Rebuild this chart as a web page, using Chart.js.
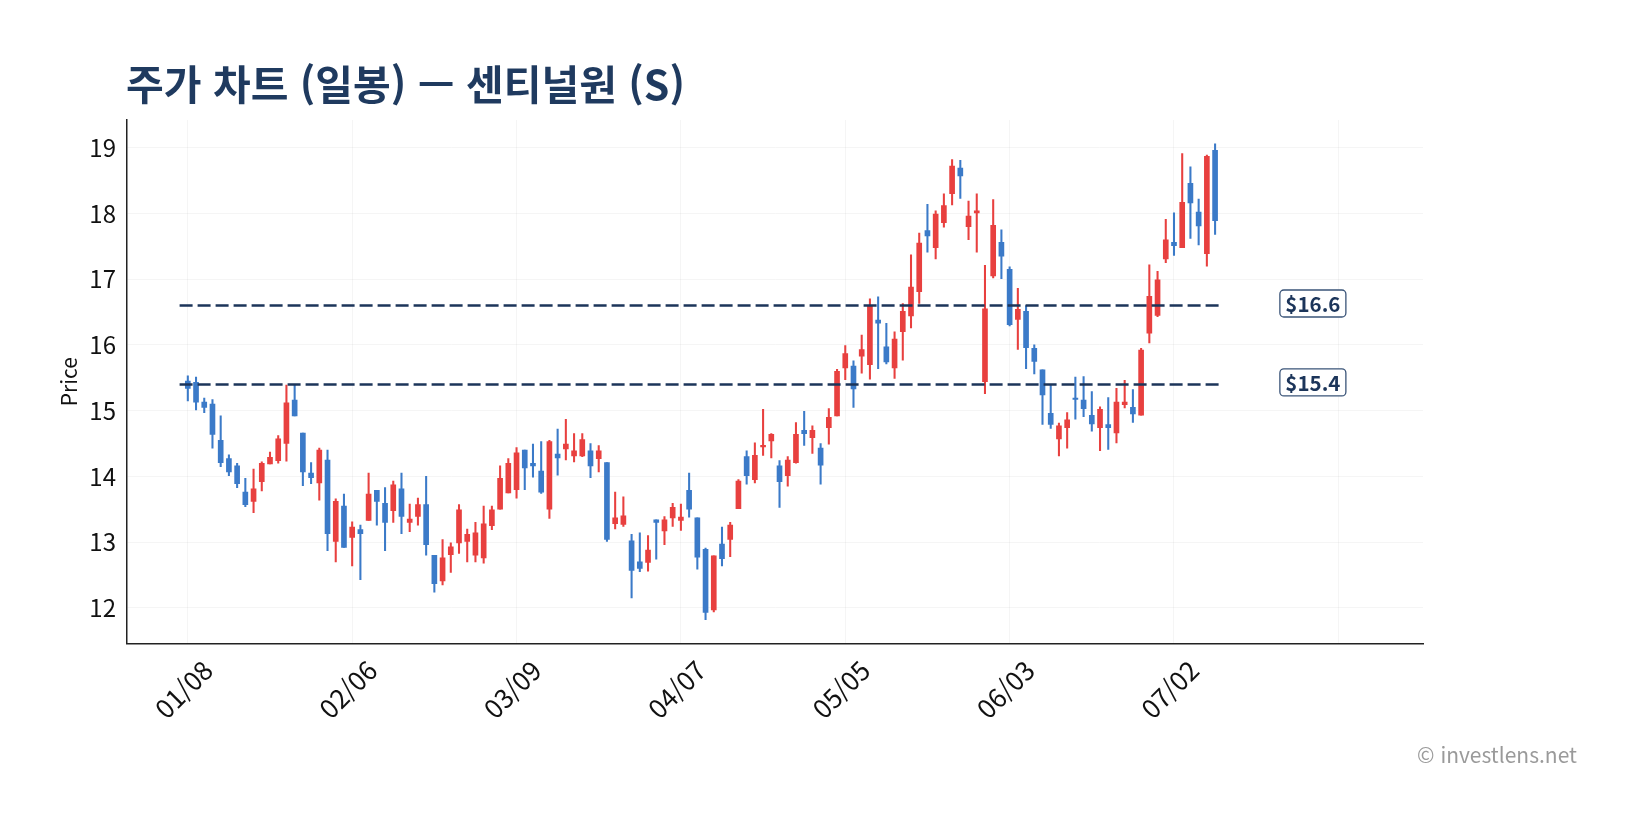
<!DOCTYPE html>
<html lang="ko">
<head>
<meta charset="utf-8">
<title>주가 차트 (일봉) — 센티널원 (S)</title>
<script src="https://cdn.jsdelivr.net/npm/chart.js@4.4.1/dist/chart.umd.min.js"></script>
<style>
  html, body { margin: 0; padding: 0; background: #fff; }
  #wrap { position: relative; width: 1635px; height: 828px; }
  #title { position: absolute; left: 126px; top: 57px; font: 700 41px/50px 'Noto Sans CJK KR', 'Noto Sans', sans-serif; color: #1f3a5f; white-space: nowrap; }
  #credit { position: absolute; right: 58px; top: 741px; font: 400 21px/26px 'Noto Sans CJK KR', 'Noto Sans', sans-serif; color: #9a9a9a; white-space: nowrap; }
</style>
</head>
<body>
<div id="wrap">
  <canvas id="chart" width="1635" height="828"></canvas>
  <div id="title">주가 차트 (일봉) — 센티널원 (S)</div>
  <div id="credit">© investlens.net</div>
</div>
<script>
/* daily OHLC, 2026-01-08 .. 2026-07-10 (126 sessions) */
const openP = [15.45,15.43,15.13,15.10,14.55,14.27,14.16,13.76,13.62,13.92,14.19,14.24,14.50,15.16,14.66,14.05,13.90,14.25,13.01,13.55,
  13.07,13.19,13.33,13.79,13.59,13.48,13.81,13.30,13.39,13.57,12.80,12.41,12.81,12.99,13.01,12.80,12.76,13.25,13.50,13.75,
  13.80,14.40,14.20,14.08,13.50,14.34,14.42,14.31,14.31,14.39,14.27,14.21,13.28,13.27,13.02,12.70,12.69,13.34,13.17,13.37,
  13.33,13.79,13.37,12.89,11.97,12.97,13.04,13.51,14.30,13.95,14.45,14.54,14.16,14.01,14.21,14.70,14.59,14.43,14.74,14.92,
  15.65,15.68,15.83,15.70,16.38,15.97,15.65,16.20,16.44,16.81,17.74,17.48,17.86,18.30,18.69,17.80,18.01,15.44,17.05,17.56,
  17.15,16.39,16.51,15.95,15.62,14.96,14.57,14.74,15.19,15.16,14.93,14.74,14.79,14.66,15.09,15.05,14.93,16.18,16.45,17.31,
  17.56,17.48,18.46,18.02,17.39,18.96];
const highP = [15.53,15.51,15.19,15.17,14.92,14.33,14.20,13.97,14.11,14.22,14.37,14.62,15.39,15.39,14.66,14.21,14.43,14.40,13.66,13.73,
  13.31,13.26,14.05,13.79,13.83,13.93,14.05,13.58,13.67,14.00,12.80,13.04,12.99,13.57,13.20,13.30,13.55,13.55,14.16,14.27,
  14.44,14.40,14.49,14.53,14.55,14.72,14.87,14.65,14.65,14.50,14.47,14.21,13.76,13.69,13.12,13.14,13.10,13.34,13.39,13.59,
  13.58,14.05,13.37,12.91,12.79,13.23,13.30,13.95,14.39,14.51,15.02,14.65,14.24,14.30,14.82,14.99,14.77,14.50,15.03,15.63,
  15.99,15.76,16.15,16.70,16.73,16.33,16.20,16.63,17.37,17.70,18.14,18.04,18.30,18.82,18.81,18.19,18.30,17.21,18.21,17.75,
  17.19,16.86,16.60,16.00,15.62,15.40,14.81,14.97,15.51,15.52,15.29,15.06,15.20,15.34,15.46,15.32,15.95,17.22,17.12,17.91,
  18.01,18.91,18.71,18.22,18.89,19.06];
const lowP = [15.15,15.01,14.97,14.43,14.15,14.01,13.83,13.54,13.45,13.78,14.19,14.20,14.23,14.92,13.86,13.89,13.64,12.87,12.70,12.92,
  12.64,12.43,13.33,13.26,12.87,13.30,13.13,13.16,13.26,12.80,12.24,12.35,12.54,12.83,12.70,12.70,12.68,13.19,13.50,13.75,
  13.67,13.80,13.99,13.74,13.36,14.02,14.25,14.22,14.30,13.98,14.07,13.01,13.20,13.24,12.15,12.55,12.56,12.74,12.96,13.24,
  13.18,13.38,12.59,11.82,11.94,12.64,12.78,13.51,13.88,13.90,14.32,14.28,13.53,13.85,14.20,14.47,14.35,13.88,14.49,14.92,
  15.47,15.05,15.57,15.48,15.64,15.71,15.49,15.77,16.26,16.63,17.41,17.31,17.79,18.13,18.23,17.60,17.41,15.26,17.02,17.01,
  16.29,15.93,15.64,15.56,14.79,14.73,14.31,14.43,14.87,14.91,14.69,14.39,14.41,14.51,15.04,14.82,14.93,16.03,16.43,17.25,
  17.36,17.48,17.62,17.52,17.20,17.68];
const closeP = [15.34,15.13,15.05,14.64,14.21,14.07,13.89,13.57,13.81,14.20,14.29,14.57,15.12,14.92,14.07,13.98,14.40,13.13,13.62,12.92,
  13.23,13.13,13.73,13.62,13.30,13.87,13.39,13.35,13.57,12.96,12.37,12.76,12.93,13.49,13.12,13.14,13.28,13.49,13.97,14.20,
  14.36,14.13,14.16,13.76,14.53,14.28,14.49,14.39,14.56,14.16,14.39,13.04,13.37,13.40,12.57,12.60,12.88,13.30,13.34,13.53,
  13.38,13.50,12.77,11.93,12.79,12.75,13.26,13.93,14.01,14.32,14.47,14.64,13.92,14.25,14.64,14.65,14.70,14.17,14.90,15.60,
  15.87,15.33,15.93,16.60,16.33,15.74,16.09,16.51,16.88,17.55,17.66,17.99,18.12,18.72,18.57,17.96,18.04,16.55,17.82,17.35,
  16.31,16.54,15.96,15.75,15.24,14.79,14.77,14.86,15.17,15.03,14.80,15.02,14.74,15.13,15.13,14.95,15.92,16.74,16.99,17.60,
  17.51,18.17,18.16,17.81,18.87,17.89];

// x tick labels, one every 20 sessions
const tickLabels = ['01/08', '02/06', '03/09', '04/07', '05/05', '06/03', '07/02', ''];
const levelValues = [16.6, 15.4];
const levelNames = ['$16.6', '$15.4'];

const UP = '#e8403f', DOWN = '#3b7ac8', NAVY = '#1c355a';
const FONT = "'Noto Sans CJK KR', 'Noto Sans', sans-serif";

const n = closeP.length;
const idx = closeP.map((_, i) => i);
const colorAt = i => closeP[i] >= openP[i] ? UP : DOWN;

const wickData = idx.map(i => ({ x: i, y: [lowP[i], highP[i]] }));
const bodyData = idx.map(i => ({ x: i, y: [Math.min(openP[i], closeP[i]), Math.max(openP[i], closeP[i])] }));
const colors = idx.map(colorAt);

const levelSets = levelValues.map(v => ({
  type: 'line',
  data: [{ x: -1, y: v }, { x: n - 0.5, y: v }],
  borderColor: NAVY, borderWidth: 2.5, borderDash: [13, 5],
  pointRadius: 0, fill: false, order: 0
}));

// draws the boxed price tags at the right of each level line
const levelTags = {
  id: 'levelTags',
  afterDatasetsDraw(chart) {
    const { ctx, scales: { x, y } } = chart;
    ctx.save();
    ctx.font = '700 20.5px ' + FONT;
    ctx.textAlign = 'center';
    ctx.textBaseline = 'middle';
    levelValues.forEach((v, k) => {
      const cx = x.getPixelForValue(n + 10.9), cy = y.getPixelForValue(v) - 2;
      const w = 66, h = 27;
      ctx.beginPath();
      ctx.roundRect(cx - w / 2, cy - h / 2, w, h, 4);
      ctx.fillStyle = '#fff'; ctx.fill();
      ctx.lineWidth = 1.3; ctx.strokeStyle = '#3a5478'; ctx.stroke();
      ctx.fillStyle = NAVY;
      ctx.fillText(levelNames[k], cx, cy + 1);
    });
    ctx.restore();
  }
};

new Chart(document.getElementById('chart'), {
  type: 'bar',
  data: {
    datasets: [
      ...levelSets,
      { data: bodyData, backgroundColor: colors, barThickness: 5, minBarLength: 1.5, grouped: false, order: 1 },
      { data: wickData, backgroundColor: colors, barThickness: 1.4, grouped: false, order: 2 }
    ]
  },
  options: {
    responsive: false,
    animation: false,
    events: [],
    layout: { padding: { top: 120, right: 212, left: 0, bottom: 0 } },
    plugins: { legend: { display: false }, tooltip: { enabled: false } },
    scales: {
      x: {
        type: 'linear', min: -7.4, max: 150.3, offset: false,
        afterBuildTicks: s => { s.ticks = tickLabels.map((_, k) => ({ value: k * 20 })); },
        afterFit: s => { s.height = 184.5; },
        grid: { color: 'rgba(0,0,0,0.04)', drawTicks: false, offset: false },
        border: { display: true, color: '#222', width: 1.5 },
        ticks: {
          autoSkip: false, maxRotation: 45, minRotation: 45, padding: 11, labelOffset: 20,
          color: '#111', font: { family: FONT, size: 26 },
          callback: v => tickLabels[Math.round(v / 20)] || ''
        }
      },
      y: {
        min: 11.458, max: 19.422,
        afterBuildTicks: s => { s.ticks = [12, 13, 14, 15, 16, 17, 18, 19].map(v => ({ value: v })); },
        afterFit: s => { s.width = 127; },
        grid: { color: 'rgba(0,0,0,0.04)', drawTicks: false },
        border: { display: true, color: '#222', width: 1.5 },
        ticks: { padding: 11, color: '#111', font: { family: FONT, size: 24 } },
        title: { display: true, text: 'Price', color: '#111', font: { family: FONT, size: 21 }, padding: { top: 56, bottom: 0 } }
      }
    }
  },
  plugins: [levelTags]
});
</script>
</body>
</html>
